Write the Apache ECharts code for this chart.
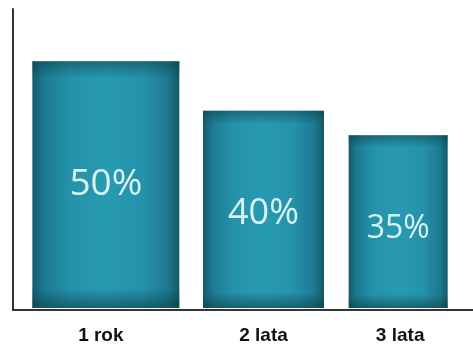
<!DOCTYPE html>
<html>
<head>
<meta charset="utf-8">
<script src="https://cdn.jsdelivr.net/npm/echarts@6/dist/echarts.min.js"></script>
<style>
    html, body { margin: 0; padding: 0; background: #fff; }
    #chart { width: 473px; height: 349px; }
</style>
</head>
<body>
<div id="chart"></div>
<script>
// 数据
const categories = ['1 rok', '2 lata', '3 lata'];
const values = [50, 40, 35];
const valueLabels = ['50%', '40%', '35%'];

// 样式（每根柱子的宽度、微调和数字大小不一样）
const barWidths = [147, 121, 99];
const barShift = [-3, 9, -2];
const catLabelShift = [-8, 9, 0];
const labelSizes = [37, 36, 32];
const labelDy = [0, 4, 7];

const sideGradient = new echarts.graphic.LinearGradient(0, 0, 1, 0, [
    { offset: 0, color: '#165c6c' },
    { offset: 0.08, color: '#1d7a90' },
    { offset: 0.25, color: '#2492aa' },
    { offset: 0.5, color: '#279ab1' },
    { offset: 0.75, color: '#2492aa' },
    { offset: 0.92, color: '#1d7a90' },
    { offset: 1, color: '#155766' }
]);
const edgeShade = new echarts.graphic.LinearGradient(0, 0, 0, 1, [
    { offset: 0, color: 'rgba(12,60,72,0.5)' },
    { offset: 0.07, color: 'rgba(12,60,72,0)' },
    { offset: 0.92, color: 'rgba(12,60,72,0)' },
    { offset: 1, color: 'rgba(12,60,72,0.6)' }
]);

function renderBar (params, api) {
    const idx = api.value(0);
    const top = api.coord([idx, api.value(1)]);
    const base = api.coord([idx, 0]);
    const w = barWidths[idx];
    const cx = top[0] + barShift[idx];
    const x = cx - w / 2;
    const h = base[1] - top[1];
    return {
        type: 'group',
        children: [
            { type: 'rect', shape: { x: x, y: top[1], width: w, height: h }, style: { fill: sideGradient } },
            { type: 'rect', shape: { x: x, y: top[1], width: w, height: h }, style: { fill: edgeShade } },
            {
                type: 'text',
                style: {
                    text: valueLabels[idx],
                    x: cx,
                    y: top[1] + h / 2 + labelDy[idx],
                    align: 'center',
                    verticalAlign: 'middle',
                    fill: '#d8f3f5',
                    fontFamily: '"Open Sans", sans-serif',
                    fontWeight: 'normal',
                    fontSize: labelSizes[idx]
                }
            }
        ]
    };
}

// 类目标签左右微调
const categoryData = categories.map((name, i) => {
    const s = catLabelShift[i] * 2;
    return {
        value: name,
        textStyle: { padding: [0, s < 0 ? -s : 0, 0, s > 0 ? s : 0] }
    };
});

const option = {
    animation: false,
    grid: [
        { left: 36, right: 0, top: 12, bottom: 41 },   // 柱子
        { left: 13, right: 0, top: 9, bottom: 39 }     // 坐标轴线
    ],
    xAxis: [{
        type: 'category',
        gridIndex: 0,
        data: categoryData,
        axisLine: { show: false },
        axisTick: { show: false },
        axisLabel: {
            margin: 18,
            color: '#111',
            fontFamily: '"Liberation Sans", Arial, sans-serif',
            fontWeight: 'bold',
            fontSize: 19
        }
    }, {
        type: 'value',
        gridIndex: 1,
        axisLine: { show: true, lineStyle: { color: '#333', width: 2 } },
        axisTick: { show: false },
        axisLabel: { show: false },
        splitLine: { show: false }
    }],
    yAxis: [{
        type: 'value',
        gridIndex: 0,
        min: 0,
        max: 60,
        show: false
    }, {
        type: 'value',
        gridIndex: 1,
        axisLine: { show: true, lineStyle: { color: '#333', width: 2 } },
        axisTick: { show: false },
        axisLabel: { show: false },
        splitLine: { show: false }
    }],
    series: [{
        type: 'custom',
        xAxisIndex: 0,
        yAxisIndex: 0,
        renderItem: renderBar,
        encode: { x: 0, y: 1 },
        data: values.map((v, i) => [i, v])
    }]
};

const myChart = echarts.init(document.getElementById('chart'));
myChart.setOption(option);
</script>
</body>
</html>
